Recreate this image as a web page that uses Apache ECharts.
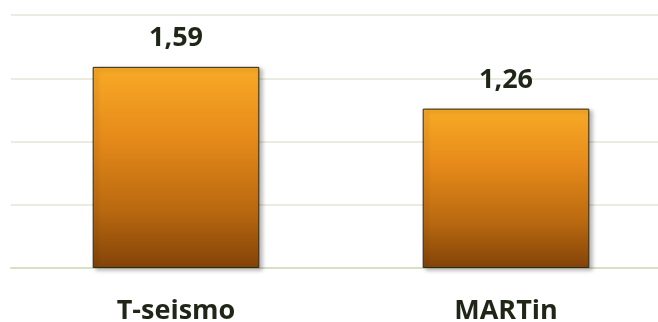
<!DOCTYPE html>
<html>
<head>
<meta charset="utf-8">
<style>
  html, body { margin: 0; padding: 0; background: #ffffff; }
  #chart { width: 658px; height: 322px; }
</style>
<script src="https://cdn.jsdelivr.net/npm/echarts@6/dist/echarts.min.js"></script>
</head>
<body>
<div id="chart"></div>
<script>
// Categories and their values
const categories = ['T-seismo', 'MARTin'];
const values = [1.59, 1.26];

// Value axis range
const yMin = 0;
const yMax = 2;
const yStep = 0.5;

const chart = echarts.init(document.getElementById('chart'), null, { renderer: 'canvas' });

const barFill = new echarts.graphic.LinearGradient(0, 0, 0, 1, [
  { offset: 0, color: '#f8aa26' },
  { offset: 0.35, color: '#e68a1a' },
  { offset: 0.7, color: '#bb6a10' },
  { offset: 1, color: '#834308' }
]);

chart.setOption({
  animation: false,
  backgroundColor: '#ffffff',
  // the plot runs a little past the right edge, so the second slot is cut off
  grid: {
    left: 11, width: 660, top: 15, bottom: 54,
    containLabel: false,
    outerBoundsMode: 'none'
  },
  xAxis: {
    type: 'category',
    data: categories,
    axisTick: { show: false },
    axisLine: { show: true, lineStyle: { color: '#d9dec6', width: 2 } },
    axisLabel: {
      margin: 30,
      fontFamily: 'Open Sans',
      fontWeight: 'bold',
      fontSize: 27,
      color: '#1f2617'
    }
  },
  yAxis: {
    type: 'value',
    min: yMin,
    max: yMax,
    interval: yStep,
    axisLine: { show: false },
    axisTick: { show: false },
    axisLabel: { show: false },
    splitLine: { show: true, lineStyle: { color: '#e2e6d4', width: 1.5 } }
  },
  series: [{
    type: 'bar',
    data: values,
    barWidth: '50.5%',
    itemStyle: {
      color: barFill,
      borderColor: '#2b2a1c',
      borderWidth: 1,
      shadowColor: 'rgba(0,0,0,0.28)',
      shadowBlur: 4,
      shadowOffsetX: 3,
      shadowOffsetY: 2
    },
    label: {
      show: true,
      position: 'top',
      distance: 15,
      fontFamily: 'Open Sans',
      fontWeight: 'bold',
      fontSize: 27,
      color: '#1f2617',
      formatter: p => String(p.value).replace('.', ',')
    }
  }]
});
</script>
</body>
</html>
